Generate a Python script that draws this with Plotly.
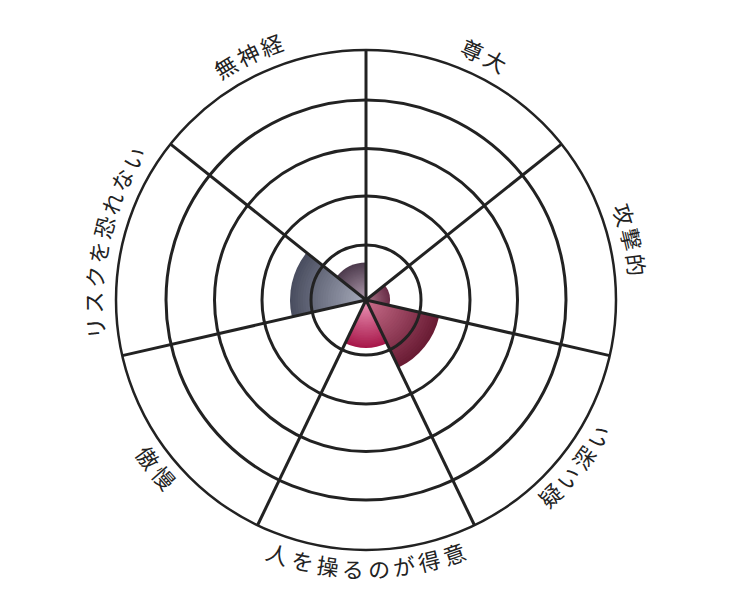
import numpy as np
import plotly.graph_objects as go

# data
categories = ['尊大', '攻撃的', '疑い深い', '人を操るのが得意', '傲慢', 'リスクを恐れない', '無神経']
values = [0, 0.48, 1.5, 0.96, 0, 1.52, 0.75]
inner_colors = ['#b0a0b0', '#a87488', '#c86c8a', '#ec96b8', '#a4a8b8', '#a6aaba', '#b09cae']
outer_colors = ['#4e3c4e', '#6a2e48', '#6a1c34', '#a8184a', '#4c5062', '#4a4e60', '#4e3c4e']
ring_levels = [1.1, 2.08, 3.03, 4.0, 5.0]
r_max = 5

W, H = 732, 600
# page body has an 8px margin, so the plot is placed 8px up/left to land centred
dom_x = [(116 - 8) / W, (616 - 8) / W]
dom_y = [1 - (550 - 8) / H, 1 - (50 - 8) / H]
line_col = '#222222'
n_bands = 30

n = len(categories)
step = 360 / n
centers = [(i + 0.5) * step for i in range(n)]


def hex2rgb(h):
    h = h.lstrip('#')
    return np.array([int(h[k:k + 2], 16) for k in (0, 2, 4)], dtype=float)


def mix(c1, c2, t):
    c = hex2rgb(c1) * (1 - t) + hex2rgb(c2) * t
    return 'rgb(%d,%d,%d)' % tuple(np.round(c))


fig = go.Figure()

# radial shading: full wedge in the dark edge colour, then shorter and lighter ones on top
vals = np.array(values, dtype=float)
for j in range(n_bands):
    frac = (n_bands - j) / n_bands
    t = 1 - j / (n_bands - 1)
    fig.add_trace(go.Barpolar(
        r=vals * frac, theta=centers, width=[step] * n,
        marker_color=[mix(a, b, t) for a, b in zip(inner_colors, outer_colors)],
        marker_line_width=0, showlegend=False, hoverinfo='skip', subplot='polar'))

# empty trace so the overlay subplot (grid on top of bars) gets drawn
fig.add_trace(go.Scatterpolar(r=[0], theta=[0], mode='markers', marker_opacity=0,
                              showlegend=False, hoverinfo='skip', subplot='polar2'))

grid_ang = dict(rotation=90, direction='clockwise', thetaunit='degrees',
                tickmode='linear', tick0=0, dtick=step, showticklabels=False, ticks='')
grid_rad = dict(range=[0, r_max], showticklabels=False, ticks='', showline=False)

fig.update_layout(
    width=W, height=H, margin=dict(l=0, r=0, t=0, b=0),
    paper_bgcolor='white', template='none',
    polar=dict(domain=dict(x=dom_x, y=dom_y), bgcolor='white', barmode='overlay',
               angularaxis=dict(grid_ang, showgrid=False, showline=False),
               radialaxis=dict(grid_rad, showgrid=False)),
    polar2=dict(domain=dict(x=dom_x, y=dom_y), bgcolor='rgba(0,0,0,0)',
                angularaxis=dict(grid_ang, showgrid=True, gridcolor=line_col, gridwidth=2.5,
                                 showline=True, linecolor=line_col, linewidth=2.5),
                radialaxis=dict(grid_rad, tickmode='array', tickvals=ring_levels,
                                showgrid=True, gridcolor=line_col, gridwidth=2.5)),
)

# curved category labels, one character at a time
cx = W * (dom_x[0] + dom_x[1]) / 2
cy = H * (1 - (dom_y[0] + dom_y[1]) / 2)
R = W * (dom_x[1] - dom_x[0]) / 2
char_px = 25.5
for lab, tc in zip(categories, centers):
    flip = 90 < tc < 270
    lab_r = R * (1.072 if flip else 1.092)
    dstep = np.degrees(char_px / lab_r)
    m = len(lab)
    for k, ch in enumerate(lab):
        off = (k - (m - 1) / 2) * dstep
        th = tc - off if flip else tc + off
        a = np.radians(th)
        xp = cx + lab_r * np.sin(a)
        yp = cy - lab_r * np.cos(a)
        fig.add_annotation(x=xp / W, y=1 - yp / H, xref='paper', yref='paper',
                           text=ch, showarrow=False, xanchor='center', yanchor='middle',
                           textangle=(th - 180) if flip else th,
                           font=dict(family='Noto Sans CJK JP', size=22, color=line_col))

fig.write_html('out.html')
